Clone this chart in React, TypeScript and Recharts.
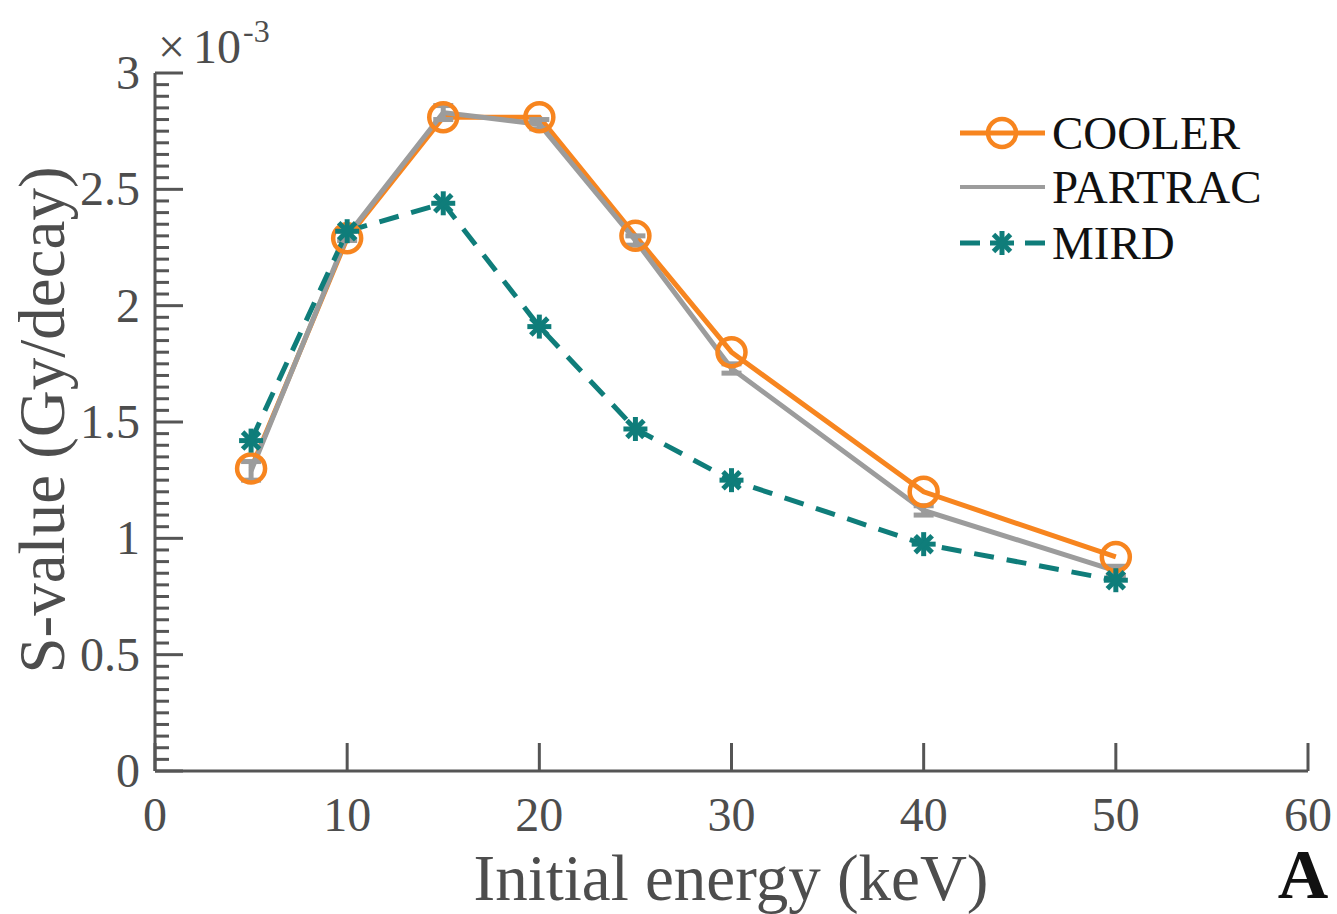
import { LineChart, Line, XAxis, YAxis, ErrorBar, Customized } from "recharts";

const energies = [5, 10, 15, 20, 25, 30, 40, 50];
const cooler = [1.3, 2.29, 2.81, 2.81, 2.3, 1.8, 1.2, 0.92];
const partrac = [1.29, 2.3, 2.83, 2.78, 2.28, 1.73, 1.12, 0.86];
const partracErr = [0.04, 0.02, 0.03, 0.02, 0.02, 0.02, 0.02, 0.02];
const mird = [1.42, 2.32, 2.44, 1.91, 1.47, 1.25, 0.975, 0.82];

const xTicks = [0, 10, 20, 30, 40, 50, 60];
const yMajor = [0, 0.5, 1, 1.5, 2, 2.5, 3];
const yTicks = Array.from({ length: 61 }, (_, i) => Math.round(i * 5) / 100);

const data = energies.map((e, i) => ({
  energy: e,
  cooler: cooler[i],
  partrac: partrac[i],
  partracErr: partracErr[i],
  mird: mird[i],
}));

const ORANGE = "#f7851f";
const GRAY = "#9c9c9c";
const TEAL = "#0f7d7a";
const AXIS = "#555555";
const TEXT = "#4d4d4d";
const FONT = "'Liberation Serif', 'Times New Roman', serif";

const isMajor = (v: number) => yMajor.some((m) => Math.abs(m - v) < 1e-6);

const YTick = (props: any) => {
  const { x, y, payload } = props;
  const v = payload.value;
  const major = isMajor(v);
  return (
    <g>
      <line x1={x} x2={x + (major ? 28 : 14)} y1={y} y2={y} stroke={AXIS} strokeWidth={3} />
      {major && (
        <text x={x - 15} y={y} dy={16} textAnchor="end" fontSize={48} fill={TEXT} fontFamily={FONT}>
          {String(v)}
        </text>
      )}
    </g>
  );
};

const XTick = (props: any) => {
  const { x, y, payload } = props;
  return (
    <g>
      <line x1={x} x2={x} y1={y} y2={y - 28} stroke={AXIS} strokeWidth={3} />
      <text x={x} y={y + 60} textAnchor="middle" fontSize={48} fill={TEXT} fontFamily={FONT}>
        {String(payload.value)}
      </text>
    </g>
  );
};

const Circle = (props: any) => {
  const { cx, cy, index } = props;
  return <circle key={`c${index}`} cx={cx} cy={cy} r={14} fill="none" stroke={ORANGE} strokeWidth={4.5} />;
};

const Star = ({ cx, cy, r }: { cx: number; cy: number; r: number }) => {
  const d = r * Math.SQRT1_2;
  return (
    <g>
      <line x1={cx - r} x2={cx + r} y1={cy} y2={cy} stroke={TEAL} strokeWidth={5} />
      <line x1={cx} x2={cx} y1={cy - r} y2={cy + r} stroke={TEAL} strokeWidth={5} />
      <line x1={cx - d} x2={cx + d} y1={cy - d} y2={cy + d} stroke={TEAL} strokeWidth={5} />
      <line x1={cx - d} x2={cx + d} y1={cy + d} y2={cy - d} stroke={TEAL} strokeWidth={5} />
    </g>
  );
};

const StarDot = (props: any) => {
  const { cx, cy, index } = props;
  return (
    <g key={`s${index}`}>
      <Star cx={cx} cy={cy} r={12} />
    </g>
  );
};

const Extras = () => (
  <g fontFamily={FONT}>
    {/* exponent */}
    <text x={158} y={63} fontSize={48} fill={TEXT}>×</text>
    <text x={193} y={63} fontSize={48} fill={TEXT}>10</text>
    <text x={243} y={42} fontSize={32} fill={TEXT}>-3</text>
    {/* axis titles */}
    <text
      x={0}
      y={0}
      transform="translate(64,420) rotate(-90)"
      textAnchor="middle"
      fontSize={65}
      fill={TEXT}
    >
      S-value (Gy/decay)
    </text>
    <text x={731} y={900} textAnchor="middle" fontSize={65} fill={TEXT}>
      Initial energy (keV)
    </text>
    <text x={1303} y={898} textAnchor="middle" fontSize={70} fontWeight="bold" fill="#111">
      A
    </text>
    {/* legend */}
    <line x1={960} x2={1045} y1={133} y2={133} stroke={ORANGE} strokeWidth={5} />
    <circle cx={1002} cy={133} r={14} fill="#fff" stroke={ORANGE} strokeWidth={4.5} />
    <line x1={988} x2={1016} y1={133} y2={133} stroke={ORANGE} strokeWidth={5} />
    <text x={1052} y={149} fontSize={47} fill="#111">COOLER</text>
    <line x1={960} x2={1045} y1={187} y2={187} stroke={GRAY} strokeWidth={4} />
    <text x={1052} y={203} fontSize={47} fill="#111">PARTRAC</text>
    <line x1={960} x2={980} y1={243} y2={243} stroke={TEAL} strokeWidth={5} />
    <line x1={1025} x2={1045} y1={243} y2={243} stroke={TEAL} strokeWidth={5} />
    <Star cx={1002} cy={243} r={12} />
    <text x={1052} y={259} fontSize={47} fill="#111">MIRD</text>
  </g>
);

export default function App() {
  return (
    <div style={{ position: "absolute", left: 0, top: 0, width: 1337, height: 914, background: "#fff" }}>
      <LineChart
        width={1337}
        height={914}
        data={data}
        margin={{ top: 73, right: 29, bottom: 0, left: 0 }}
      >
        <XAxis
          dataKey="energy"
          type="number"
          domain={[0, 60]}
          ticks={xTicks}
          interval={0}
          height={143}
          tickSize={0}
          tickMargin={0}
          tickLine={false}
          axisLine={{ stroke: AXIS, strokeWidth: 3 }}
          tick={<XTick />}
        />
        <YAxis
          type="number"
          domain={[0, 3]}
          ticks={yTicks}
          interval={0}
          width={155}
          tickSize={0}
          tickMargin={0}
          tickLine={false}
          axisLine={{ stroke: AXIS, strokeWidth: 3 }}
          tick={<YTick />}
        />
        <Line
          dataKey="cooler"
          stroke={ORANGE}
          strokeWidth={5}
          dot={<Circle />}
          activeDot={false}
          isAnimationActive={false}
        />
        <Line
          dataKey="partrac"
          stroke={GRAY}
          strokeWidth={5}
          dot={false}
          activeDot={false}
          isAnimationActive={false}
        >
          <ErrorBar dataKey="partracErr" width={10} stroke={GRAY} strokeWidth={5} direction="y" />
        </Line>
        <Line
          dataKey="mird"
          stroke={TEAL}
          strokeWidth={5}
          strokeDasharray="20 13"
          dot={<StarDot />}
          activeDot={false}
          isAnimationActive={false}
        />
        <Customized component={Extras} />
      </LineChart>
    </div>
  );
}
